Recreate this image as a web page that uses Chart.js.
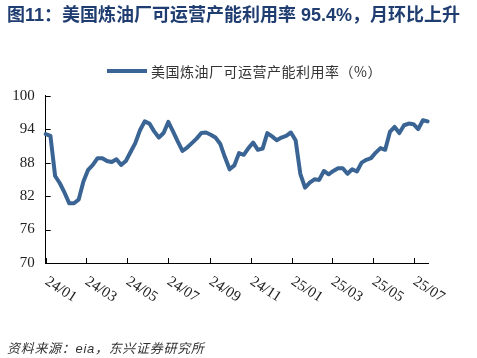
<!DOCTYPE html>
<html>
<head>
<meta charset="utf-8">
<script src="https://cdn.jsdelivr.net/npm/chart.js@4/dist/chart.umd.min.js"></script>
<style>
  html, body { margin: 0; padding: 0; background: #fff; }
  #wrap { position: relative; width: 477px; height: 358px; overflow: hidden; }
  #c { position: absolute; left: 0; top: 0; }
  #title { position: absolute; left: 7px; top: 0px; line-height: 24px; font: bold 18px "Liberation Sans", "Noto Sans CJK SC", sans-serif; color: #1f3d70; white-space: nowrap; }
  #legLine { position: absolute; left: 107px; top: 69px; width: 40px; height: 4px; background: #3a6494; }
  #legText { position: absolute; left: 151px; top: 61px; line-height: 20px; font: 14px "Noto Sans CJK SC", sans-serif; letter-spacing: 0.5px; color: #333; white-space: nowrap; }
  #src { position: absolute; left: 7px; top: 338px; line-height: 18px; font: italic 13px "Liberation Sans", "Noto Sans CJK SC", sans-serif; letter-spacing: 0.7px; color: #333; white-space: nowrap; }
</style>
</head>
<body>
<div id="wrap">
  <canvas id="c" width="477" height="358"></canvas>
  <div id="title">图11：美国炼油厂可运营产能利用率 95.4%，月环比上升</div>
  <div id="legLine"></div>
  <div id="legText">美国炼油厂可运营产能利用率（%）</div>
  <div id="src">资料来源：eia，东兴证券研究所</div>
</div>
<script>
// Weekly dates (EIA weeks ending Friday)
const weekDates = [
  '2024-01-05','2024-01-12','2024-01-19','2024-01-26',
  '2024-02-02','2024-02-09','2024-02-16','2024-02-23',
  '2024-03-01','2024-03-08','2024-03-15','2024-03-22','2024-03-29',
  '2024-04-05','2024-04-12','2024-04-19','2024-04-26',
  '2024-05-03','2024-05-10','2024-05-17','2024-05-24','2024-05-31',
  '2024-06-07','2024-06-14','2024-06-21','2024-06-28',
  '2024-07-05','2024-07-12','2024-07-19','2024-07-26',
  '2024-08-02','2024-08-09','2024-08-16','2024-08-23','2024-08-30',
  '2024-09-06','2024-09-13','2024-09-20','2024-09-27',
  '2024-10-04','2024-10-11','2024-10-18','2024-10-25',
  '2024-11-01','2024-11-08','2024-11-15','2024-11-22','2024-11-29',
  '2024-12-06','2024-12-13','2024-12-20','2024-12-27',
  '2025-01-03','2025-01-10','2025-01-17','2025-01-24','2025-01-31',
  '2025-02-07','2025-02-14','2025-02-21','2025-02-28',
  '2025-03-07','2025-03-14','2025-03-21','2025-03-28',
  '2025-04-04','2025-04-11','2025-04-18','2025-04-25',
  '2025-05-02','2025-05-09','2025-05-16','2025-05-23','2025-05-30',
  '2025-06-06','2025-06-13','2025-06-20','2025-06-27',
  '2025-07-04','2025-07-11','2025-07-18','2025-07-25'
];

// Refinery operable capacity utilization (%)
const utilization = [
  93.1, 92.8, 85.6, 84.3,
  82.6, 80.7, 80.7, 81.4,
  84.6, 86.7, 87.6, 88.8, 88.8,
  88.3, 88.1, 88.6, 87.6,
  88.3, 89.9, 91.5, 93.8, 95.4,
  95.0, 93.6, 92.5, 93.3,
  95.3, 93.6, 91.8, 90.1,
  90.7, 91.5, 92.3, 93.3, 93.4,
  93.0, 92.5, 91.4, 89.0,
  86.8, 87.5, 89.7, 89.4,
  90.6, 91.6, 90.3, 90.5, 93.3,
  92.7, 92.0, 92.5, 92.8,
  93.4, 92.0, 86.0, 83.5, 84.4,
  85.0, 84.9, 86.5, 85.9,
  86.5, 87.0, 87.0, 86.0,
  86.8, 86.4, 88.0, 88.5,
  88.8, 89.8, 90.6, 90.3, 93.5,
  94.4, 93.3, 94.7, 95.0,
  94.9, 94.0, 95.6, 95.4
];

// X-axis tick labels and the dates they sit on
const tickLabels = ['24/01','24/03','24/05','24/07','24/09','24/11','25/01','25/03','25/05','25/07'];
const tickDates  = ['2024-01-05','2024-03-05','2024-05-05','2024-07-05','2024-09-05','2024-11-05','2025-01-05','2025-03-05','2025-05-05','2025-07-05'];

// Y-axis range
const yMin = 70, yMax = 100, yStep = 6;

const DAY = 86400000;
const t0 = Date.parse(weekDates[0] + 'T00:00:00Z');
const toDay = s => Math.round((Date.parse(s + 'T00:00:00Z') - t0) / DAY);

const points = weekDates.map((d, i) => ({ x: toDay(d), y: utilization[i] }));
const xTickDays = tickDates.map(toDay);

const axisDecor = {
  id: 'axisDecor',
  afterDraw(chart) {
    const ctx = chart.ctx;
    const xs = chart.scales.x, ys = chart.scales.y;
    const area = chart.chartArea;
    ctx.save();
    ctx.strokeStyle = '#000';
    ctx.lineWidth = 1;
    // y tick marks (inside)
    ys.ticks.forEach(t => {
      const y = Math.round(ys.getPixelForValue(t.value)) + 0.5;
      ctx.beginPath();
      ctx.moveTo(area.left, y);
      ctx.lineTo(area.left + 5, y);
      ctx.stroke();
    });
    // x tick marks (inside) and rotated labels
    ctx.font = '15px "Liberation Serif", serif';
    ctx.fillStyle = '#222';
    ctx.textAlign = 'left';
    ctx.textBaseline = 'top';
    xTickDays.forEach((d, i) => {
      const x = Math.round(xs.getPixelForValue(d)) + 0.5;
      ctx.beginPath();
      ctx.moveTo(x, area.bottom);
      ctx.lineTo(x, area.bottom - 5);
      ctx.stroke();
      ctx.save();
      ctx.translate(x + 4, area.bottom + 11);
      ctx.rotate(33 * Math.PI / 180);
      ctx.fillText(tickLabels[i], 0, 0);
      ctx.restore();
    });
    ctx.restore();
  }
};

new Chart(document.getElementById('c'), {
  type: 'line',
  data: {
    datasets: [{
      label: '美国炼油厂可运营产能利用率（%）',
      data: points,
      borderColor: '#3a6494',
      backgroundColor: '#3a6494',
      borderWidth: 4,
      pointRadius: 0,
      tension: 0,
      borderCapStyle: 'round',
      borderJoinStyle: 'round',
      clip: false
    }]
  },
  options: {
    responsive: false,
    animation: false,
    devicePixelRatio: 1,
    layout: { padding: { left: 5.7, top: 95.7, right: 48.7, bottom: 95 } },
    plugins: { legend: { display: false }, tooltip: { enabled: false } },
    scales: {
      x: {
        type: 'linear',
        min: 0,
        max: 568,
        grid: { display: false, drawTicks: false },
        border: { display: true, color: '#000', width: 1 },
        ticks: { display: false },
        afterFit(s) { s.height = 0; }
      },
      y: {
        min: yMin,
        max: yMax,
        grid: { display: false, drawTicks: false },
        border: { display: true, color: '#000', width: 1 },
        ticks: {
          stepSize: yStep,
          padding: 11,
          color: '#222',
          font: { family: '"Liberation Serif", serif', size: 15 }
        },
        afterFit(s) { s.width = 40; }
      }
    }
  },
  plugins: [axisDecor]
});
</script>
</body>
</html>
